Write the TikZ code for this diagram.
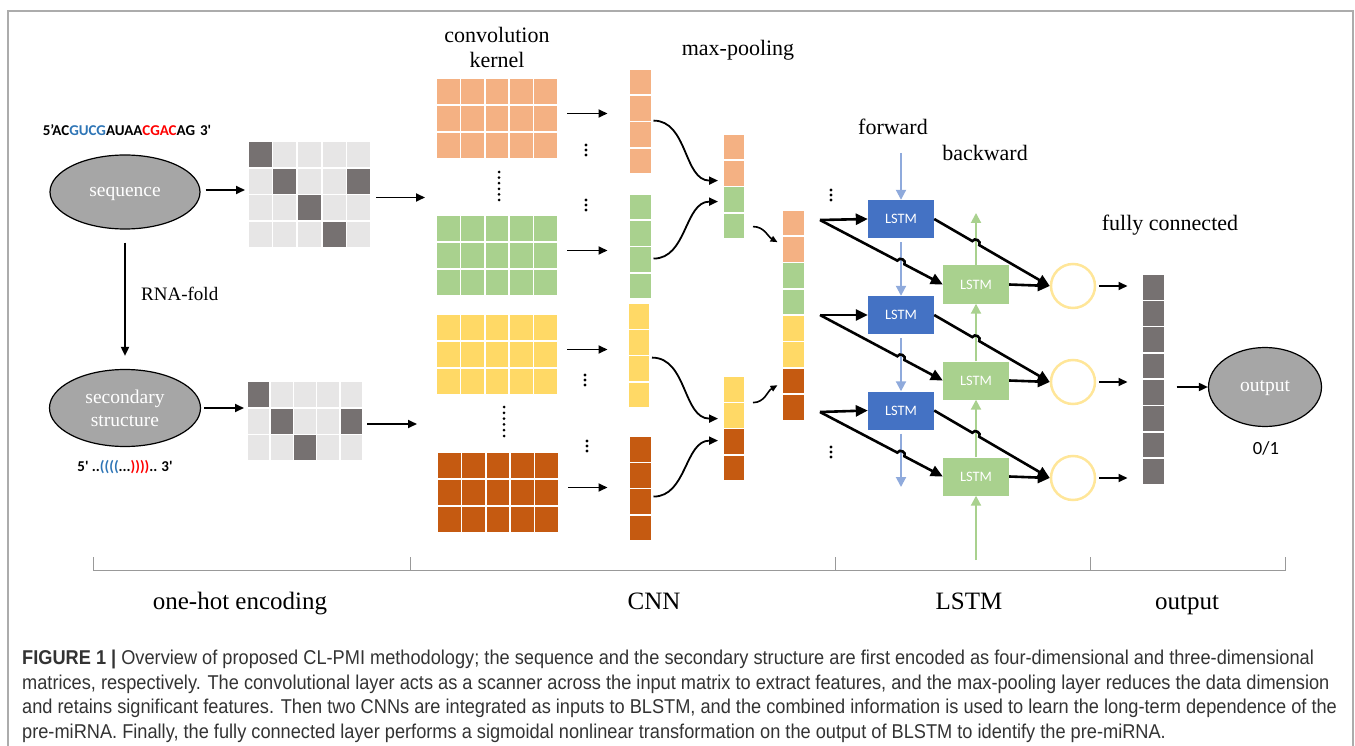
\documentclass[tikz,border=0pt]{standalone}
\usepackage{fontspec}
\setmainfont{Liberation Serif}
\newfontfamily\calfont{Carlito}
\newfontfamily\capfont[FakeStretch=0.91]{Liberation Sans}
\usetikzlibrary{positioning,shapes.geometric,arrows.meta,calc}

\definecolor{corange}{HTML}{F4B183}
\definecolor{cgreen}{HTML}{A9D18E}
\definecolor{cyellow}{HTML}{FFD966}
\definecolor{cbrown}{HTML}{C55A11}
\definecolor{cdark}{HTML}{767171}
\definecolor{clight}{HTML}{E7E6E6}
\definecolor{cboxblue}{HTML}{4472C4}
\definecolor{cflow}{HTML}{8FAADC}
\definecolor{cgate}{HTML}{FFE699}
\definecolor{cellip}{HTML}{A6A6A6}
\definecolor{cseqblue}{HTML}{2E75B6}
\definecolor{cseqred}{HTML}{FF0000}

\tikzset{
  box/.style={inner sep=0pt, outer sep=0pt},
  cell/.style={draw=white, line width=1.6pt, inner sep=0pt, outer sep=0pt},
  ellip/.style={ellipse, draw=black, line width=1.2pt, fill=cellip, text=white,
    inner sep=0pt, align=center, font=\fontsize{19.5}{23}\selectfont},
  lbl/.style={inner sep=0pt, align=center, font=\fontsize{22}{25}\selectfont},
  barlbl/.style={inner sep=0pt, anchor=base, font=\fontsize{25}{28}\selectfont},
  seqtxt/.style={inner sep=0pt, font=\calfont\bfseries\fontsize{15}{18}\selectfont},
  lstmf/.style={fill=cboxblue, text=white, minimum width=66pt, minimum height=38pt,
    inner sep=0pt, font=\calfont\fontsize{14.4}{16}\selectfont},
  lstmb/.style={lstmf, fill=cgreen},
  gate/.style={circle, draw=cgate, line width=2.5pt, minimum size=44pt, inner sep=0pt},
  arr/.style={line width=1.8pt, -{Triangle[length=9pt,width=8pt]}},
  bigarr/.style={line width=2.6pt, -{Triangle[length=12pt,width=11pt]}},
  fwd/.style={draw=cflow, line width=2pt, -{Triangle[length=10pt,width=10pt]}},
  bwd/.style={fwd, draw=cgreen},
}

% kernel: name, colour, left, top
\newcommand{\kernel}[4]{%
  \node[box, minimum width=122pt, minimum height=81pt, anchor=north west] (#1) at (#3,#4) {};
  \foreach \r in {1,2,3}
    \foreach \q in {1,...,5}
      \node[cell, fill=#2, minimum width=24.4pt, minimum height=27pt]
        (#1-\r-\q) at ({#3+24.4*(\q-0.5)},{#4+27*(\r-0.5)}) {};
}
% column of cells: name, x centre, top, number of cells, colours
\newcommand{\vcol}[5]{%
  \node[box, minimum width=22pt, minimum height={26.3*#4*1pt}, anchor=north] (#1) at (#2,#3) {};
  \foreach \cl [count=\i] in {#5}
    \node[cell, fill=\cl, minimum width=22pt, minimum height=26.3pt]
      (#1-\i) at (#2,{#3+26.3*(\i-0.5)}) {};
}
% three dots
\newcommand{\threedots}[2]{%
  \foreach \k in {-1,0,1} \fill (#1,{#2+5*\k}) circle (1.7pt);
}

\begin{document}
\begin{tikzpicture}[x=1pt,y=-1pt]
  \useasboundingbox (0,0) rectangle (1355,746);
  \draw[gray!65, line width=1.5pt] (8,746) -- (8,11) -- (1353,11) -- (1353,746);

  % one-hot encoding
  \node[seqtxt] (seqstr) at (127,130)
    {5’AC\textcolor{cseqblue}{GUCG}AUAA\textcolor{cseqred}{CGAC}AG\hspace{5pt}3\textquotesingle};
  \node[ellip, minimum width=150pt, minimum height=74pt] (seq) at (125,192)
    {\raisebox{-5pt}[0pt][0pt]{sequence}};
  \node[ellip, minimum width=151pt, minimum height=77pt] (ss) at (125,408) {secondary\\structure};
  \node[seqtxt] (ssstr) at (125,467)
    {5\textquotesingle\ ..\textcolor{cseqblue}{((((}...\textcolor{cseqred}{))))}..\hspace{4pt}3\textquotesingle};

  \node[box, minimum width=123pt, minimum height=107pt, anchor=north west] (ma) at (248,141) {};
  \foreach \r in {1,...,4}
    \foreach \q in {1,...,5}
      \node[cell, fill=clight, minimum width=24.6pt, minimum height=26.75pt]
        (ma-\r-\q) at ({248+24.6*(\q-0.5)},{141+26.75*(\r-0.5)}) {};
  \foreach \r/\q in {1/1,2/2,2/5,3/3,4/4}
    \node[cell, fill=cdark, minimum width=24.6pt, minimum height=26.75pt] (mad-\r-\q) at (ma-\r-\q) {};

  \node[box, minimum width=116pt, minimum height=80pt, anchor=north west] (mb) at (247,381) {};
  \foreach \r in {1,...,3}
    \foreach \q in {1,...,5}
      \node[cell, fill=clight, minimum width=23.2pt, minimum height=26.7pt]
        (mb-\r-\q) at ({247+23.2*(\q-0.5)},{381+26.7*(\r-0.5)}) {};
  \foreach \r/\q in {1/1,2/2,2/5,3/3}
    \node[cell, fill=cdark, minimum width=23.2pt, minimum height=26.7pt] (mbd-\r-\q) at (mb-\r-\q) {};

  \draw[arr] ([xshift=5pt,yshift=2pt]seq.east) -- ([xshift=-3pt,yshift=2pt]seq.east -| ma.west);
  \draw[arr] ([xshift=3pt]ss.east) -- ([xshift=-3pt]ss.east -| mb.west);
  \draw[line width=1.8pt, -{Triangle[length=9pt,width=8pt]}]
    ([yshift=-13pt]seq.south) -- ([yshift=13pt]ss.north)
    node[midway, right=12pt, yshift=5pt, font=\fontsize{19}{22}\selectfont] (fold) {RNA-fold};

  % CNN
  \node[lbl] (convlbl) at (497,47) {convolution\\kernel};
  \kernel{ko}{corange}{436}{78}
  \kernel{kg}{cgreen}{436}{215}
  \kernel{ky}{cyellow}{436}{314}
  \kernel{kb}{cbrown}{437}{452}
  \draw[arr] ([xshift=5pt,yshift=-3pt]ma.east) -- ([xshift=-11pt,yshift=-3pt]ma.east -| ko.west);
  \draw[arr] ([xshift=4pt,yshift=-3pt]mb.east) -- ([xshift=-19pt,yshift=-3pt]mb.east -| ko.west);
  \foreach \k in {0,...,5} \fill (499,{172+5.6*\k}) circle (1.5pt);
  \foreach \k in {0,...,5} \fill (504,{407+5.8*\k}) circle (1.5pt);

  \vcol{co}{640.5}{69}{4}{corange,corange,corange,corange}
  \vcol{cg}{640.5}{194}{4}{cgreen,cgreen,cgreen,cgreen}
  \vcol{cy}{639}{303}{4}{cyellow,cyellow,cyellow,cyellow}
  \vcol{cb}{640.5}{436}{4}{cbrown,cbrown,cbrown,cbrown}
  \foreach \k in {ko,kg,ky,kb}
    \draw[arr] ([xshift=9pt,yshift=5pt]\k.east) -- ([xshift=-22pt,yshift=5pt]\k.east -| co.west);
  \threedots{586}{150}
  \threedots{586}{205}
  \threedots{585}{380}
  \threedots{587}{446}

  \node[lbl] (poollbl) at (738,50) {max-pooling};
  \vcol{pa}{734}{134}{4}{corange,corange,cgreen,cgreen}
  \vcol{pb}{734}{376}{4}{cyellow,cyellow,cbrown,cbrown}
  \draw[arr] ([xshift=2pt,yshift=1pt]co.east) to[out=0,in=180] ([xshift=-5pt,yshift=6pt]pa.west);
  \draw[arr] ([xshift=2pt,yshift=-12pt]cg.east) to[out=0,in=180] ([xshift=-5pt,yshift=-15pt]pa.west);
  \draw[arr] ([xshift=2pt,yshift=-2pt]cy.east) to[out=0,in=180] ([xshift=-5pt,yshift=10pt]pb.west);
  \draw[arr] ([xshift=2pt,yshift=-8pt]cb.east) to[out=0,in=180] ([xshift=-5pt,yshift=-12pt]pb.west);

  \vcol{mg}{793.5}{210}{8}{corange,corange,cgreen,cgreen,cyellow,cyellow,cbrown,cbrown}
  \draw[line width=1.6pt, -{Triangle[length=7pt,width=6pt]}]
    ([xshift=8pt,yshift=-40pt]pa.east) to[out=0,in=150] ([xshift=-5pt,yshift=73pt]mg.west);
  \draw[line width=1.6pt, -{Triangle[length=7pt,width=6pt]}]
    ([xshift=8pt,yshift=26pt]pb.east) to[out=0,in=210] ([xshift=-5pt,yshift=-70pt]mg.west);

  % LSTM
  \node[lbl] (fwdlbl) at (893,127) {forward};
  \node[lbl] (bwdlbl) at (985,153) {backward};
  \threedots{831}{195}
  \threedots{831}{452}
  \node[lstmf] (lf1) at (901,219) {LSTM};
  \node[lstmf] (lf2) at (901,315) {LSTM};
  \node[lstmf] (lf3) at (901,410.5) {LSTM};
  \node[lstmb] (lb1) at (976,284.5) {LSTM};
  \node[lstmb] (lb2) at (976,380.5) {LSTM};
  \node[lstmb] (lb3) at (976,476.5) {LSTM};
  \node[gate] (g1) at (1073,286) {};
  \node[gate] (g2) at (1073,382) {};
  \node[gate] (g3) at (1073,478) {};
  \coordinate (ftop) at (901,153);
  \coordinate (fbot) at (901,487);
  \coordinate (btop) at (976,213);
  \coordinate (bbot) at (976,560);
  \coordinate (sp1) at (820,220);
  \coordinate (sp2) at (820,315);
  \coordinate (sp3) at (820,412);

  \draw[fwd] (ftop) -- (lf1.north);
  \draw[fwd] ([yshift=-4pt]lf1.south) -- (lf2.north);
  \draw[fwd] ([yshift=-4pt]lf2.south) -- (lf3.north);
  \draw[fwd] ([yshift=-4pt]lf3.south) -- (fbot);
  \draw[bwd] (bbot) -- (lb3.south);
  \draw[bwd] (lb3.north) -- (lb2.south);
  \draw[bwd] (lb2.north) -- (lb1.south);
  \draw[bwd] (lb1.north) -- (btop);

  \foreach \i in {1,2,3} {
    \draw[bigarr] (sp\i) -- (lf\i.west);
    \draw[bigarr] (sp\i) -- ($(sp\i)!0.63!(lb\i.west)$)
      to[bend left=90, looseness=1.5] ($(sp\i)!0.688!(lb\i.west)$) -- (lb\i.west);
    \draw[bigarr] (lf\i.east) -- ($(lf\i.east)!0.33!(g\i.west)$)
      to[bend left=90, looseness=1.5] ($(lf\i.east)!0.39!(g\i.west)$) -- (g\i.west);
    \draw[bigarr] (lb\i.east) -- (g\i.west);
  }

  % output
  \node[lbl] (fclbl) at (1170,225) {fully connected};
  \vcol{fc}{1153.5}{274}{8}{cdark,cdark,cdark,cdark,cdark,cdark,cdark,cdark}
  \foreach \i in {1,2,3}
    \draw[arr] ([xshift=3pt]g\i.east) -- ([xshift=-15pt]g\i.east -| fc.west);
  \node[ellip, minimum width=113pt, minimum height=79pt] (out) at (1265,387)
    {\raisebox{-4.5pt}[0pt][0pt]{output}};
  \draw[arr] ([xshift=12pt]out.west -| fc.east) -- (out.west);
  \node[inner sep=0pt, font=\calfont\fontsize{18.6}{20}\selectfont] (bin) at (1266,448) {0/1};

  % stages
  \draw[gray!80, line width=1pt] (93,557) -- (93,570) -- (1285,570) -- (1285,557);
  \foreach \x in {410,835,1090} \draw[gray!80, line width=1pt] (\x,557) -- (\x,570);
  \node[barlbl] (stone) at (240,609) {one-hot encoding};
  \node[barlbl] (stcnn) at (654,609) {CNN};
  \node[barlbl] (stlstm) at (969,609) {LSTM};
  \node[barlbl] (stout) at (1187,609) {output};

  \node[anchor=north west, inner sep=0pt, align=left, text=black!80,
    font=\capfont\fontsize{20}{24.5}\selectfont] (caption) at (22,650)
    {\textbf{FIGURE 1 |} Overview of proposed CL-PMI methodology; the sequence and the secondary structure are first encoded as four-dimensional and three-dimensional\\
     matrices, respectively. The convolutional layer acts as a scanner across the input matrix to extract features, and the max-pooling layer reduces the data dimension\\
     and retains significant features. Then two CNNs are integrated as inputs to BLSTM, and the combined information is used to learn the long-term dependence of the\\
     pre-miRNA. Finally, the fully connected layer performs a sigmoidal nonlinear transformation on the output of BLSTM to identify the pre-miRNA.};
\end{tikzpicture}
\end{document}
